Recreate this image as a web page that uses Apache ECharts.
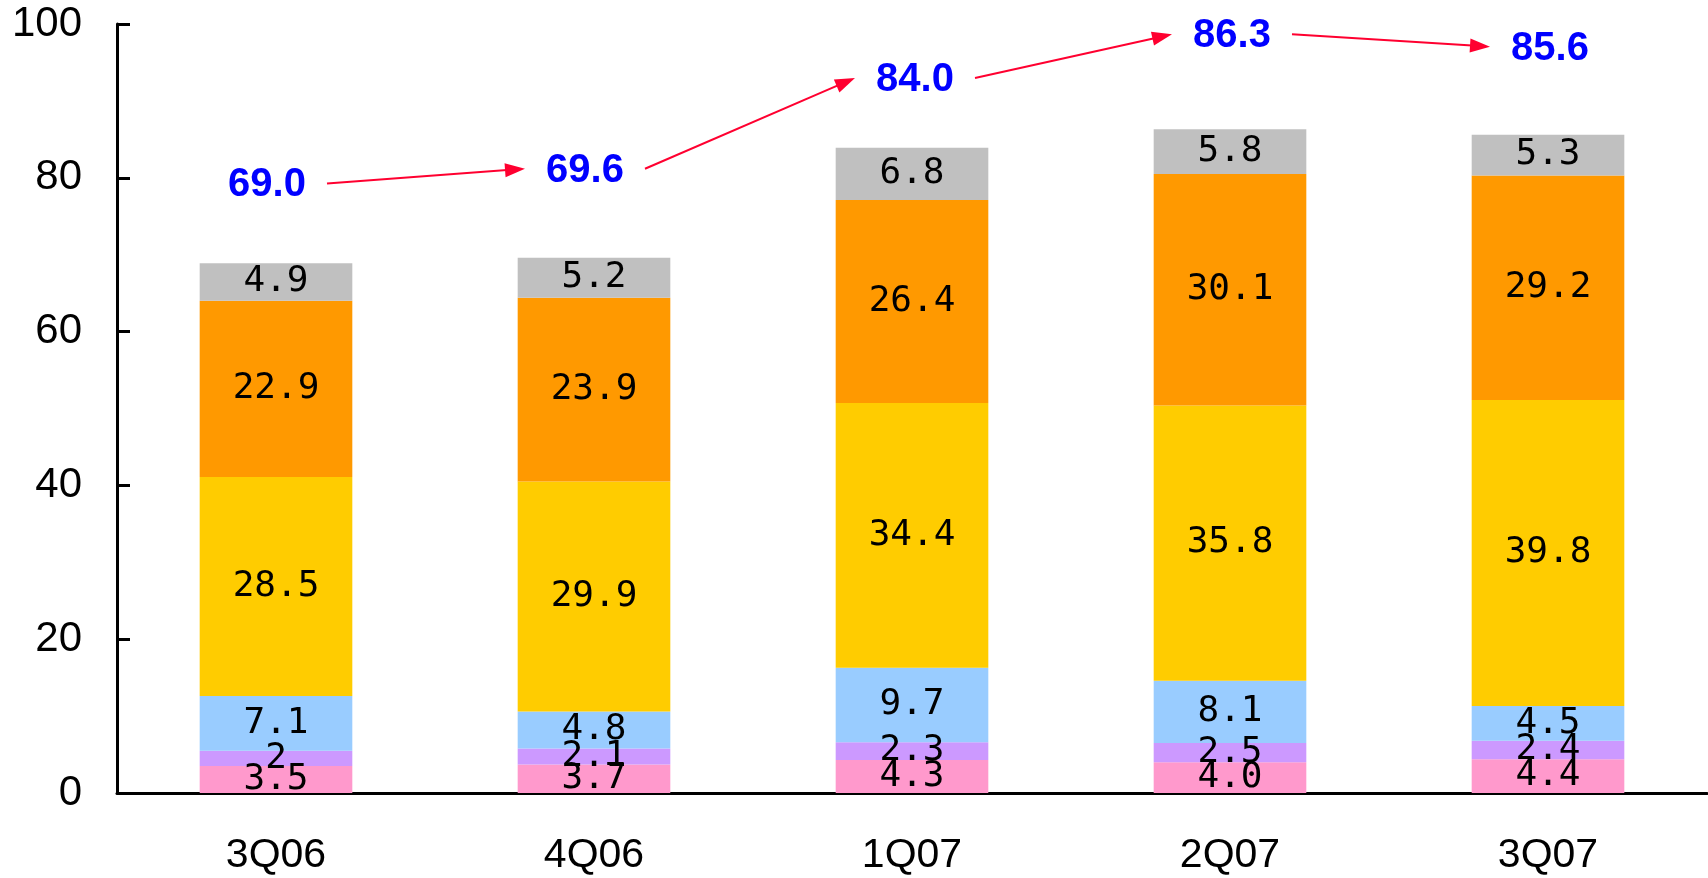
<!DOCTYPE html>
<html>
<head>
<meta charset="utf-8">
<script src="https://cdn.jsdelivr.net/npm/echarts@6/dist/echarts.min.js"></script>
<style>
  html, body { margin: 0; padding: 0; background: #fff; }
  #chart { width: 1708px; height: 878px; }
</style>
</head>
<body>
<div id="chart"></div>
<script>
  // values (kept as text so "2" and "4.0" print as shown)
  const quarters = ['3Q06', '4Q06', '1Q07', '2Q07', '3Q07']
  const pink = ['3.5', '3.7', '4.3', '4.0', '4.4']
  const purple = ['2', '2.1', '2.3', '2.5', '2.4']
  const blue = ['7.1', '4.8', '9.7', '8.1', '4.5']
  const yellow = ['28.5', '29.9', '34.4', '35.8', '39.8']
  const orange = ['22.9', '23.9', '26.4', '30.1', '29.2']
  const gray = ['4.9', '5.2', '6.8', '5.8', '5.3']
  const totals = ['69.0', '69.6', '84.0', '86.3', '85.6']
  const yTicks = [0, 20, 40, 60, 80, 100]

  // where the blue total labels sit relative to the bar top (px)
  const totalShiftX = [-9, -9, 3, 2, 2]
  const totalLift = [77, 87, 67, 93, 86]
  const ARROW_RED = '#FF0030'

  const chart = echarts.init(document.getElementById('chart'))

  function stackSeries (name, values, color) {
    return {
      name,
      type: 'bar',
      stack: 'total',
      barWidth: '48%',
      data: values.map(Number),
      itemStyle: { color },
      label: {
        show: true,
        position: 'inside',
        color: '#000',
        fontFamily: 'DejaVu Sans Mono',
        fontSize: 36,
        formatter: p => values[p.dataIndex]
      },
      emphasis: { disabled: true }
    }
  }

  chart.setOption({
    animation: false,
    grid: { left: 117, right: 1, top: 24, bottom: 85 },
    xAxis: {
      type: 'category',
      data: quarters,
      axisLine: { lineStyle: { color: '#000', width: 3 } },
      axisTick: { inside: true, length: 13, lineStyle: { color: '#000', width: 3 } },
      axisLabel: { color: '#000', fontFamily: 'Liberation Sans', fontSize: 41, margin: 42 }
    },
    yAxis: {
      type: 'value',
      min: yTicks[0],
      max: yTicks[yTicks.length - 1],
      interval: 20,
      splitLine: { show: false },
      axisLine: { show: true, lineStyle: { color: '#000', width: 3 } },
      axisTick: { show: true, inside: true, length: 13, lineStyle: { color: '#000', width: 3 } },
      axisLabel: { color: '#000', fontFamily: 'Liberation Sans', fontSize: 42, margin: 35 }
    },
    series: [
      stackSeries('pink', pink, '#FF99CC'),
      stackSeries('purple', purple, '#CC99FF'),
      stackSeries('blue', blue, '#99CCFF'),
      stackSeries('yellow', yellow, '#FFCC00'),
      stackSeries('orange', orange, '#FF9900'),
      stackSeries('gray', gray, '#C0C0C0'),
      {
        name: 'total',
        type: 'scatter',
        symbolSize: 1,
        itemStyle: { color: 'transparent', opacity: 1 },
        data: totals.map((v, i) => ({
          value: Number(v),
          label: { offset: [totalShiftX[i], -totalLift[i]] }
        })),
        label: {
          show: true,
          position: 'inside',
          color: '#0000FF',
          fontFamily: 'Liberation Sans',
          fontWeight: 'bold',
          fontSize: 40,
          formatter: p => totals[p.dataIndex]
        },
        emphasis: { disabled: true },
        z: 5
      }
    ]
  })

  // red arrows between the total labels, placed from the axes' own scale
  function drawArrows () {
    const centers = totals.map((v, i) => {
      const pt = chart.convertToPixel({ xAxisIndex: 0, yAxisIndex: 0 }, [i, Number(v)])
      return [pt[0] + totalShiftX[i], pt[1] - totalLift[i] - 2]
    })
    const graphic = []
    const gap = 60
    const headLen = 20
    const headHalf = 7
    for (let i = 0; i < centers.length - 1; i++) {
      const a = centers[i]
      const b = centers[i + 1]
      const x1 = a[0] + gap
      const x2 = b[0] - gap
      const y1 = a[1]
      const y2 = b[1]
      const len = Math.hypot(x2 - x1, y2 - y1)
      const ux = (x2 - x1) / len
      const uy = (y2 - y1) / len
      const bx = x2 - ux * headLen
      const by = y2 - uy * headLen
      graphic.push({
        type: 'line',
        silent: true,
        shape: { x1, y1, x2: bx + ux * 2, y2: by + uy * 2 },
        style: { stroke: ARROW_RED, lineWidth: 2 }
      })
      graphic.push({
        type: 'polygon',
        silent: true,
        shape: {
          points: [
            [x2, y2],
            [bx - uy * headHalf, by + ux * headHalf],
            [bx + uy * headHalf, by - ux * headHalf]
          ]
        },
        style: { fill: ARROW_RED }
      })
    }
    chart.setOption({ graphic })
  }

  drawArrows()
  window.addEventListener('resize', () => { chart.resize(); drawArrows() })
</script>
</body>
</html>
